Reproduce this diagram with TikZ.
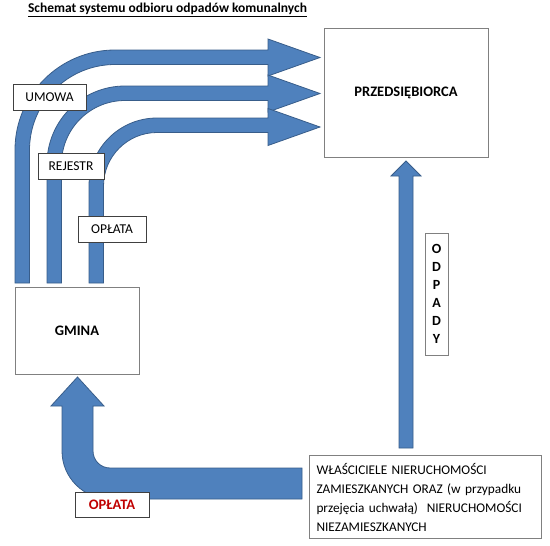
\documentclass[tikz,border=0pt]{standalone}
\usepackage{fontspec}
\setmainfont{Carlito}
\definecolor{arrowblue}{HTML}{4F81BD}
\definecolor{arrowedge}{HTML}{385D8A}
\definecolor{boxgray}{HTML}{808080}
\definecolor{feered}{HTML}{C00000}

\begin{document}
\begin{tikzpicture}[
  x=1pt,y=1pt,yscale=-1,line join=miter,
  blockarrow/.style={fill=arrowblue,draw=arrowedge,line width=0.8pt},
  mainbox/.style={draw=boxgray,fill=white,line width=0.8pt,inner sep=0pt},
  tagbox/.style={draw=black!75,fill=white,line width=0.7pt,inner sep=0pt,
    minimum height=26pt,font=\fontsize{13.5}{15}\selectfont},
  boldtext/.style={font=\bfseries\fontsize{14.5}{16}\selectfont}
]
  \useasboundingbox (0,0) rectangle (550,546);
  \fill[white] (0,0) rectangle (550,546);

  \node[font=\bfseries\fontsize{13.5}{15}\selectfont] (title) at (167.5,10)
    {\underline{Schemat systemu odbioru odpadów komunalnych}};

  % Three bent arrows from the municipality to the company.
  \foreach \xo/\yo/\R/\hy in {15/50/100/57.5, 47/86/78/93.5, 89/118/68/127} {
    \draw[blockarrow] (\xo,283) -- (\xo,\yo+\R)
      arc[start angle=180,end angle=270,radius=\R]
      -- (268,\yo) -- (268,\hy-18.5) -- (320,\hy) -- (268,\hy+18.5) -- (268,\yo+14.5)
      -- (\xo+\R,\yo+14.5) arc[start angle=270,end angle=180,radius=\R-14.5]
      -- (\xo+14.5,283) -- cycle;
  }

  % Waste going up to the company.
  \draw[blockarrow] (399,448) -- (399,176) -- (391,176) -- (406,161)
    -- (421,176) -- (413,176) -- (413,448) -- cycle;

  % Fee paid by the owners to the municipality.
  \draw[blockarrow] (302,468) -- (110,468) arc[start angle=90,end angle=180,radius=17]
    -- (93,406) -- (104,406) -- (77.5,377) -- (51,406) -- (62,406) -- (62,451)
    arc[start angle=180,end angle=90,radius=48] -- (302,499) -- cycle;

  % Boxes.
  \node[mainbox,boldtext,minimum width=164pt,minimum height=129pt] (company) at (406,92.5) {PRZEDSIĘBIORCA};
  \node[mainbox,boldtext,minimum width=124pt,minimum height=87pt] (gmina) at (77,330.5) {GMINA};
  \node[mainbox,minimum width=232pt,minimum height=83pt,text width=218pt,align=left,
    font=\fontsize{13.3}{19}\selectfont] (owners) at (425.5,497)
    {WŁAŚCICIELE NIERUCHOMOŚCI\\ZAMIESZKANYCH ORAZ (w przypadku\\przejęcia uchwałą)\ \ NIERUCHOMOŚCI\\NIEZAMIESZKANYCH};
  \node[mainbox,minimum width=23pt,minimum height=122pt,align=center,
    font=\bfseries\fontsize{14}{18}\selectfont] (waste) at (436.5,294) {O\\D\\P\\A\\D\\Y};

  % Labels on the arrows.
  \node[tagbox,minimum width=73pt] (contract) at (49.5,97) {UMOWA};
  \node[tagbox,minimum width=66pt] (register) at (71,166) {REJESTR};
  \node[tagbox,minimum width=68pt] (fee) at (112,229) {OPŁATA};
  \node[tagbox,boldtext,minimum width=74pt,minimum height=25pt,text=feered] (feepaid) at (112,504.5) {OPŁATA};
\end{tikzpicture}
\end{document}
